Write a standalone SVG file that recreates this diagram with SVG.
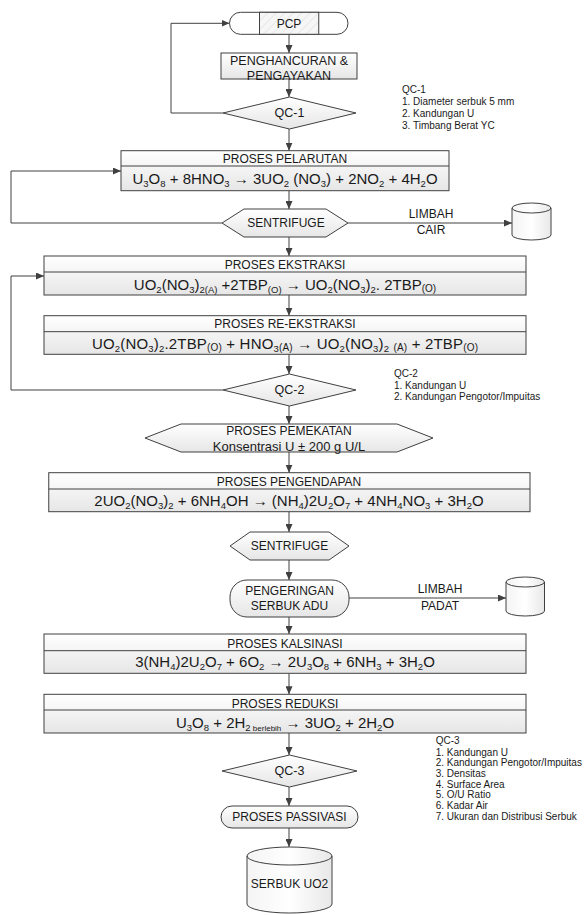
<svg xmlns="http://www.w3.org/2000/svg" width="588" height="915" viewBox="0 0 588 915">
<defs>
<linearGradient id="g" x1="0" y1="0" x2="0" y2="1"><stop offset="0" stop-color="#ffffff"/><stop offset="1" stop-color="#e6e6e6"/></linearGradient>
<linearGradient id="gc" x1="0" y1="0" x2="1" y2="0"><stop offset="0" stop-color="#f4f4f4"/><stop offset="0.5" stop-color="#ffffff"/><stop offset="1" stop-color="#e8e8e8"/></linearGradient>
<pattern id="hatch" width="6" height="6" patternUnits="userSpaceOnUse" patternTransform="rotate(45)"><rect width="6" height="6" fill="#f6f6f6"/><line x1="0" y1="0" x2="0" y2="6" stroke="#d8d8d8" stroke-width="1"/></pattern>
<marker id="ah" markerUnits="userSpaceOnUse" markerWidth="8" markerHeight="7" refX="8" refY="3.5" orient="auto"><path d="M0,0 L8,3.5 L0,7 z" fill="#404040"/></marker>
<style>
.sh{fill:url(#g);stroke:#404040;stroke-width:1}
.cy{fill:url(#gc);stroke:#404040;stroke-width:1}
.ln{fill:none;stroke:#404040;stroke-width:1}
.c{fill:none;stroke:#404040;stroke-width:1;marker-end:url(#ah)}
text{font-family:"Liberation Sans",Arial,sans-serif;fill:#1a1a1a;text-anchor:middle}
.l{font-size:12px}
.eq{font-size:15px}
.s{font-size:9.5px;baseline-shift:-3px}
.s2{font-size:10px;baseline-shift:-1.5px}
.s3{font-size:8px;baseline-shift:-3px}
.n{font-size:10px;text-anchor:start}
</style>
</defs>

<g id="connectors">
<path class="c" d="M289,34.3 V53"/>
<path class="c" d="M289,79 V97"/>
<path class="c" d="M223,113 H171 V23.3 H229.5"/>
<path class="c" d="M289,129 V150.7"/>
<path class="c" d="M289,190.7 V209"/>
<path class="c" d="M222,223 H11 V171 H121"/>
<path class="c" d="M348,223 H512"/>
<path class="c" d="M289,237 V256"/>
<path class="c" d="M289,295 V315.7"/>
<path class="c" d="M289,354.3 V374"/>
<path class="c" d="M223,390 H11 V276 H44"/>
<path class="c" d="M289,406 V424"/>
<path class="c" d="M289,452 V472.7"/>
<path class="c" d="M289,511.7 V532"/>
<path class="c" d="M289,560 V580"/>
<path class="c" d="M349,598 H506"/>
<path class="c" d="M289,617 V634"/>
<path class="c" d="M289,673.3 V694.3"/>
<path class="c" d="M289,733 V755"/>
<path class="c" d="M289,787 V806"/>
<path class="c" d="M289,828 V847"/>
</g>

<g id="pcp">
<rect x="229.5" y="12.3" width="118.5" height="22" rx="11" ry="11" fill="#ffffff" stroke="#404040"/>
<rect x="259.5" y="12.3" width="59.25" height="22" fill="url(#hatch)" stroke="#404040"/>
<text class="l" x="289" y="27.5">PCP</text>
</g>

<g id="penghancuran">
<rect class="sh" x="221" y="53" width="136" height="26"/>
<text x="289" y="65.4" font-size="12.5">PENGHANCURAN &amp;</text>
<text x="289" y="80.4" font-size="12.5">PENGAYAKAN</text>
</g>

<g id="qc1">
<polygon class="sh" points="223,113 289.5,97 356,113 289.5,129"/>
<text x="289.5" y="117.4" font-size="12.5">QC-1</text>
</g>

<g id="note-qc1">
<text class="n" x="402" y="92.5">QC-1</text>
<text class="n" x="402" y="104.8">1. Diameter serbuk 5 mm</text>
<text class="n" x="402" y="117.1">2. Kandungan U</text>
<text class="n" x="402" y="129.4">3. Timbang Berat YC</text>
</g>

<g id="pelarutan">
<rect class="sh" x="121" y="150.7" width="328" height="40"/>
<line class="ln" x1="121" y1="166" x2="449" y2="166"/>
<text class="l" x="285" y="162.5">PROSES PELARUTAN</text>
<text class="eq" x="285" y="184">U<tspan class="s">3</tspan>O<tspan class="s">8</tspan> + 8HNO<tspan class="s">3</tspan> → 3UO<tspan class="s">2</tspan> (NO<tspan class="s">3</tspan>) + 2NO<tspan class="s">2</tspan> + 4H<tspan class="s">2</tspan>O</text>
</g>

<g id="sentrifuge1">
<polygon class="sh" points="222,223 244,209 326,209 348,223 326,237 244,237"/>
<text class="l" x="286" y="227.2">SENTRIFUGE</text>
</g>

<g id="limbah-cair-label">
<text class="l" x="431" y="218.2">LIMBAH</text>
<text class="l" x="431" y="234.2">CAIR</text>
</g>

<g id="limbah-cair">
<path class="cy" d="M512,208 A19.5,5 0 0 1 551,208 L551,235 A19.5,5 0 0 1 512,235 Z"/>
<path class="ln" d="M512,208 A19.5,5 0 0 0 551,208"/>
</g>

<g id="ekstraksi">
<rect class="sh" x="44" y="256" width="482" height="39"/>
<line class="ln" x1="44" y1="272" x2="526" y2="272"/>
<text class="l" x="285" y="268.5">PROSES EKSTRAKSI</text>
<text class="eq" x="285" y="290">UO<tspan class="s">2</tspan>(NO<tspan class="s">3</tspan>)<tspan class="s">2(A)</tspan> +2TBP<tspan class="s">(O)</tspan> → UO<tspan class="s">2</tspan>(NO<tspan class="s">3</tspan>)<tspan class="s">2</tspan>. 2TBP<tspan class="s2">(O)</tspan></text>
</g>

<g id="re-ekstraksi">
<rect class="sh" x="44" y="315.7" width="482" height="38.6"/>
<line class="ln" x1="44" y1="331.7" x2="526" y2="331.7"/>
<text class="l" x="285" y="328.2">PROSES RE-EKSTRAKSI</text>
<text class="eq" x="285" y="349.3" textLength="386" lengthAdjust="spacing">UO<tspan class="s">2</tspan>(NO<tspan class="s">3</tspan>)<tspan class="s">2</tspan>.2TBP<tspan class="s2">(O)</tspan> + HNO<tspan class="s">3</tspan><tspan class="s2">(A)</tspan> → UO<tspan class="s">2</tspan>(NO<tspan class="s">3</tspan>)<tspan class="s">2</tspan> <tspan class="s2">(A)</tspan> + 2TBP<tspan class="s2">(O)</tspan></text>
</g>

<g id="qc2">
<polygon class="sh" points="223,390 289.5,374 356,390 289.5,406"/>
<text x="289.5" y="394.4" font-size="12.5">QC-2</text>
</g>

<g id="note-qc2">
<text class="n" x="394" y="376.8">QC-2</text>
<text class="n" x="394" y="388.5">1. Kandungan U</text>
<text class="n" x="394" y="400.2">2. Kandungan Pengotor/Impuitas</text>
</g>

<g id="pemekatan">
<polygon class="sh" points="145,438 181,424 397,424 433,438 397,452 181,452"/>
<text class="l" x="289" y="435.2">PROSES PEMEKATAN</text>
<text x="289" y="450.5" font-size="13">Konsentrasi U ± 200 g U/L</text>
</g>

<g id="pengendapan">
<rect class="sh" x="48.75" y="472.7" width="481.25" height="39"/>
<line class="ln" x1="48.75" y1="489" x2="530" y2="489"/>
<text class="l" x="289" y="486">PROSES PENGENDAPAN</text>
<text class="eq" x="289" y="506">2UO<tspan class="s">2</tspan>(NO<tspan class="s">3</tspan>)<tspan class="s">2</tspan> + 6NH<tspan class="s">4</tspan>OH → (NH<tspan class="s">4</tspan>)2U<tspan class="s">2</tspan>O<tspan class="s">7</tspan> + 4NH<tspan class="s">4</tspan>NO<tspan class="s">3</tspan> + 3H<tspan class="s">2</tspan>O</text>
</g>

<g id="sentrifuge2">
<polygon class="sh" points="230,546 250,532 329,532 349,546 329,560 250,560"/>
<text class="l" x="289.5" y="550.2">SENTRIFUGE</text>
</g>

<g id="pengeringan">
<rect class="sh" x="230" y="580" width="119" height="37" rx="17" ry="17"/>
<text class="l" x="289.5" y="595.2">PENGERINGAN</text>
<text class="l" x="289.5" y="610.2">SERBUK ADU</text>
</g>

<g id="limbah-padat-label">
<text class="l" x="440" y="593.2">LIMBAH</text>
<text class="l" x="440" y="610.2">PADAT</text>
</g>

<g id="limbah-padat">
<path class="cy" d="M506,582 A19.25,5 0 0 1 544.5,582 L544.5,611 A19.25,5 0 0 1 506,611 Z"/>
<path class="ln" d="M506,582 A19.25,5 0 0 0 544.5,582"/>
</g>

<g id="kalsinasi">
<rect class="sh" x="44" y="634" width="482" height="39.3"/>
<line class="ln" x1="44" y1="650.7" x2="526" y2="650.7"/>
<text class="l" x="285" y="647.5">PROSES KALSINASI</text>
<text class="eq" x="285" y="667.3">3(NH<tspan class="s">4</tspan>)2U<tspan class="s">2</tspan>O<tspan class="s">7</tspan> + 6O<tspan class="s">2</tspan> → 2U<tspan class="s">3</tspan>O<tspan class="s">8</tspan> + 6NH<tspan class="s">3</tspan> + 3H<tspan class="s">2</tspan>O</text>
</g>

<g id="reduksi">
<rect class="sh" x="44" y="694.3" width="482" height="38.7"/>
<line class="ln" x1="44" y1="710" x2="526" y2="710"/>
<text class="l" x="285" y="707.5">PROSES REDUKSI</text>
<text class="eq" x="285" y="728">U<tspan class="s">3</tspan>O<tspan class="s">8</tspan> + 2H<tspan class="s">2</tspan><tspan class="s3"> berlebih</tspan> → 3UO<tspan class="s">2</tspan> + 2H<tspan class="s">2</tspan>O</text>
</g>

<g id="qc3">
<polygon class="sh" points="222,771 289.5,755 357,771 289.5,787"/>
<text x="289.5" y="775.4" font-size="12.5">QC-3</text>
</g>

<g id="note-qc3">
<text class="n" x="435.7" y="743.5">QC-3</text>
<text class="n" x="435.7" y="755.5">1. Kandungan U</text>
<text class="n" x="435.7" y="766.2">2. Kandungan Pengotor/Impuitas</text>
<text class="n" x="435.7" y="776.9">3. Densitas</text>
<text class="n" x="435.7" y="787.6">4. Surface Area</text>
<text class="n" x="435.7" y="798.3">5. O/U Ratio</text>
<text class="n" x="435.7" y="809">6. Kadar Air</text>
<text class="n" x="435.7" y="819.7">7. Ukuran dan Distribusi Serbuk</text>
</g>

<g id="passivasi">
<rect class="sh" x="221" y="806" width="137" height="22" rx="11" ry="11"/>
<text class="l" x="289.5" y="821.2">PROSES PASSIVASI</text>
</g>

<g id="serbuk-uo2">
<path class="cy" d="M247,856 A42.5,9 0 0 1 332,856 L332,904 A42.5,9 0 0 1 247,904 Z"/>
<path class="ln" d="M247,856 A42.5,9 0 0 0 332,856"/>
<text class="l" x="289.5" y="888.2">SERBUK UO2</text>
</g>
</svg>
